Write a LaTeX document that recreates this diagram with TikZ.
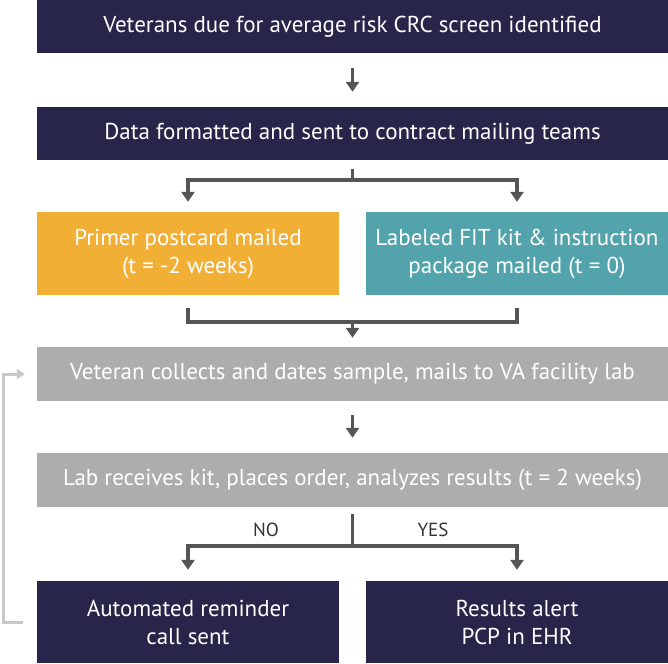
\documentclass[tikz,border=0pt]{standalone}
\usepackage{fontspec}
\setmainfont{PT Sans}
\usetikzlibrary{arrows.meta}

\definecolor{navy}{HTML}{27254A}
\definecolor{mailorange}{HTML}{F2AF36}
\definecolor{kitteal}{HTML}{52A3AB}
\definecolor{labgrey}{HTML}{ADADAD}
\definecolor{arrowgrey}{HTML}{555555}
\definecolor{loopgrey}{HTML}{C8C8C8}

\tikzset{
  stage/.style={rectangle, inner sep=0pt, text=white, align=center,
    font=\fontsize{23}{28}\selectfont},
  widestage/.style={stage, minimum width=631pt, minimum height=53pt},
  halfstage/.style={stage, minimum width=302pt, minimum height=83pt},
  flow/.style={draw=arrowgrey, line width=3.2pt},
  flowarrow/.style={flow, -{Triangle[width=13pt,length=10pt]}},
  loop/.style={draw=loopgrey, line width=3pt, -{Triangle[width=10pt,length=8pt]}},
  answer/.style={font=\fontsize{19}{22}\selectfont, text=black!80}
}

\begin{document}
\begin{tikzpicture}[x=1pt,y=-1pt]
            \useasboundingbox (0,0) rectangle (668,663);
            
            % Boxes of the mailing steps
            \node [widestage, fill=navy] (ident) at (352.5,26.5) {Veterans due for average risk CRC screen identified};%
            \node [widestage, fill=navy] (format) at (352.5,133.5) {Data formatted and sent to contract mailing teams};%
            \node [halfstage, fill=mailorange] (postcard) at (188,253.5) {Primer postcard mailed\\(t = -2 weeks)};%
            \node [halfstage, fill=kitteal] (kit) at (517,253.5) {Labeled FIT kit \& instruction\\package mailed (t = 0)};%
            
            % Boxes of the lab steps
            \node [widestage, fill=labgrey, minimum height=54pt] (collect) at (352.5,374) {Veteran collects and dates sample, mails to VA facility lab};%
            \node [widestage, fill=labgrey, minimum height=54pt] (lab) at (352.5,480) {Lab receives kit, places order, analyzes results (t = 2 weeks)};%
            
            % Boxes of the outcomes
            \node [halfstage, fill=navy, minimum height=82pt] (remind) at (188,622) {Automated reminder\\call sent};%
            \node [halfstage, fill=navy, minimum height=82pt] (alert) at (517,622) {Results alert\\PCP in EHR};%
            
            % Helper points of the forks
            \coordinate (split) at (352.5,180);%
            \coordinate (merge) at (352.5,322);%
            \coordinate (choice) at (352.5,546);%
            
            % Drawing arrow ident format
            \draw [flowarrow, shorten <=15pt, shorten >=15pt] (ident) -- (format);%
            
            % Drawing fork format postcard kit
            \draw [flow] ([yshift=-9pt]format.south) -- (split);%
            \draw [flowarrow] (split) -| ([yshift=10pt]postcard.north);%
            \draw [flowarrow] (split) -| ([yshift=10pt]kit.north);%
            
            % Drawing join postcard kit collect
            \draw [flow] ([yshift=-13pt]postcard.south) |- (merge) -| ([yshift=-13pt]kit.south);%
            \draw [flowarrow] (merge) -- ([yshift=9pt]collect.north);%
            
            % Drawing arrow collect lab
            \draw [flowarrow, shorten <=14pt, shorten >=15pt] (collect) -- (lab);%
            
            % Drawing fork lab remind alert
            \draw [flow] ([yshift=-7pt]lab.south) -- (choice);%
            \draw [flowarrow] (choice) -| ([yshift=11pt]remind.north);%
            \draw [flowarrow] (choice) -| ([yshift=11pt]alert.north);%
            \node [answer] (no) at (266,530) {NO};%
            \node [answer] (yes) at (433,530) {YES};%
            
            % Drawing loop remind collect
            \draw [loop] ([xshift=-14pt]remind.west) -- ++(-19,0) |- ([xshift=-12pt]collect.west);%
\end{tikzpicture}
\end{document}
